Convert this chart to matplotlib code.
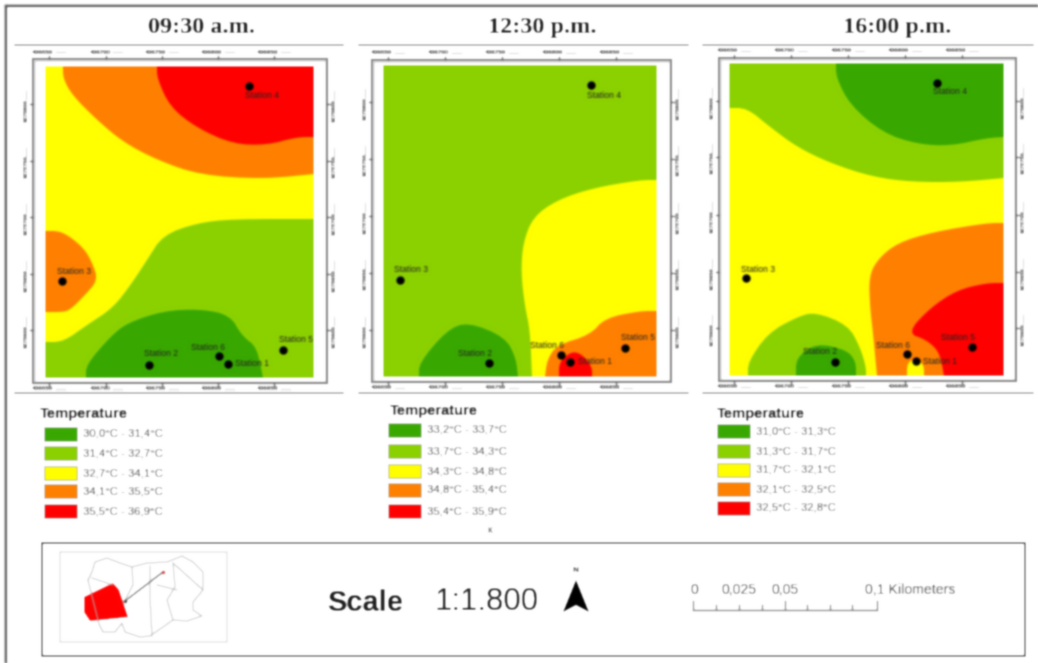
import numpy as np
import matplotlib
matplotlib.use("Agg")
import matplotlib.pyplot as plt

# ---------- colours / classes ----------
DARK, LIGHT, YEL, ORG, RED = "#38A800", "#8BD100", "#FFFF00", "#FF8000", "#FF0000"
class_colors = [DARK, LIGHT, YEL, ORG, RED]
station_names = ["Station 1", "Station 2", "Station 3", "Station 4", "Station 5", "Station 6"]
titles = ["09:30 a.m.", "12:30 p.m.", "16:00 p.m."]
title_x = [201, 542, 897]
legend_a = ["30,0°C - 31,4°C", "31,4°C - 32,7°C", "32,7°C - 34,1°C", "34,1°C - 35,5°C", "35,5°C - 36,9°C"]
legend_b = ["33,2°C - 33,7°C", "33,7°C - 34,3°C", "34,3°C - 34,8°C", "34,8°C - 35,4°C", "35,4°C - 35,9°C"]
legend_c = ["31,0°C - 31,3°C", "31,3°C - 31,7°C", "31,7°C - 32,1°C", "32,1°C - 32,5°C", "32,5°C - 32,8°C"]
easting_labels = ["436650", "436700", "436750", "436800", "436850"]
northing_labels = ["9278800", "9278750", "9278700", "9278650", "9278600"]

# ---------- map extents (image grid) ----------
map_a = (45, 314, 66, 378)
map_b = (383, 657, 65, 377)
map_c = (729, 1004, 63, 376)
frame_a = (33, 327, 59, 383)
frame_b = (372, 671, 60, 382)
frame_c = (719, 1016, 58, 381)
rule_a = (15, 343)
rule_b = (359, 688)
rule_c = (703, 1033)
xticks_a = [49, 106, 162, 218, 274]
xticks_b = [388, 445, 502, 559, 616]
xticks_c = [734, 791, 848, 905, 962]
yticks_a = [104, 161, 217, 274, 330]
yticks_b = [102, 159, 216, 273, 330]
yticks_c = [101, 157, 215, 272, 328]

# ---------- contour zones ----------
zones_a = [
    (YEL, [(45,66),(314,66),(314,378),(45,378)]),
    (ORG, [(63,66),(63,78),(72,95),(97,120),(123,142),(157,160),(200,175),(263,179),(314,174),(314,66)]),
    (RED, [(157,66),(157,78),(170,107),(197,128),(233,144),(267,145),(297,137),(314,137),(314,66)]),
    (ORG, [(45,231),(62,231),(83,247),(92,262),(98,280),(85,295),(70,310),(62,312),(45,312)]),
    (LIGHT, [(314,219),(233,219),(197,223),(163,235),(147,260),(132,283),(113,308),(87,325),(63,342),(45,342),(45,378),(314,378)]),
    (DARK, [(86,378),(86,365),(110,337),(127,323),(163,311),(200,309),(230,315),(242,336),(257,347),(263,378)]),
]
zones_b = [
    (LIGHT, [(383,65),(657,65),(657,377),(383,377)]),
    (YEL, [(657,180),(640,180),(593,188),(557,200),(533,217),(523,243),(521,273),(525,307),(530,330),(532,377),(657,377)]),
    (ORG, [(545,377),(547,360),(557,345),(590,335),(605,318),(640,311),(657,311),(657,377)]),
    (RED, [(559,377),(559,362),(572,351),(583,355),(592,367),(592,377)]),
    (DARK, [(419,377),(419,363),(447,330),(468,322),(505,337),(516,358),(518,377)]),
]
zones_c = [
    (YEL, [(729,63),(1004,63),(1004,376),(729,376)]),
    (LIGHT, [(729,63),(729,108),(747,108),(770,127),(797,147),(830,163),(873,177),(913,182),(960,182),(1004,178),(1004,63)]),
    (DARK, [(836,63),(836,77),(850,105),(883,133),(917,144),(950,146),(987,138),(1004,137),(1004,63)]),
    (ORG, [(1004,223),(987,223),(933,232),(897,243),(877,260),(869,277),(870,307),(873,333),(877,376),(1004,376)]),
    (YEL, [(907,376),(907,363),(916,358),(924,365),(924,376)]),
    (RED, [(1004,283),(987,283),(957,290),(930,308),(907,333),(927,340),(940,353),(944,376),(1004,376)]),
    (LIGHT, [(748,376),(748,362),(768,333),(797,317),(815,312),(848,325),(860,347),(866,367),(866,376)]),
    (DARK, [(796,376),(796,358),(816,343),(847,350),(856,362),(856,376)]),
]

# ---------- stations (point, label left, label y) ----------
stations_a = [(228,364,235,364),(149,365,144,354),(62,281,57,272),(249,86,245,96),(283,350,279,340),(219,356,191,347)]
stations_b = [(570,362,578,362),(489,363,458,354),(400,280,394,270),(591,85,587,95),(625,348,621,337),(561,355,530,346)]
stations_c = [(916,361,923,361),(835,362,803,352),(746,278,741,269),(937,83,933,92),(972,347,941,338),(907,354,876,345)]

# ---------- legends ----------
legend_pos_a = (40, 44, 83, 414, [434, 453, 473, 491, 511])
legend_pos_b = (390, 388, 427, 411, [430, 451, 471, 490, 511])
legend_pos_c = (717, 717, 756, 414, [431, 451, 470, 489, 508])

# ---------- locator map ----------
inset_box = (60, 227, 552, 642)
inset_region = [(84,597),(113,583),(119,590),(128,617),(90,621),(84,612)]
inset_outline = [(88,580),(92,572),(95,562),(107,558),(120,563),(132,567),(147,563),(167,562),(182,556),(193,562),(203,572),(203,590),
                 (193,602),(193,610),(202,616),(187,621),(173,620),(163,627),(150,636),(140,637),(125,632),(122,623),(115,632),(103,632),(99,624)]
inset_lines = [[(92,578),(113,585)], [(132,567),(133,585),(125,600)], [(150,566),(150,598),(152,636)],
               [(173,563),(175,587),(167,600),(173,620)], [(173,563),(203,590)], [(157,585),(177,590)]]
inset_arrow = [(163,572),(125,601)]

# ---------- scale bar ----------
scale_ticks = [693, 716, 739, 762, 785, 807, 830, 852, 877]
scale_labels = [("0", 694), ("0,025", 739), ("0,05", 785)]

W, H = 1038, 663
fig = plt.figure(figsize=(W/100, H/100), dpi=100)
ax = fig.add_axes([0, 0, 1, 1])
ax.set_xlim(0, W); ax.set_ylim(H, 0); ax.axis("off")
SANS = ["Liberation Sans", "DejaVu Sans"]

def rect(x0, x1, y0, y1, **kw):
    ax.plot([x0, x1, x1, x0, x0], [y0, y0, y1, y1, y0], solid_joinstyle="miter", **kw)

def rounded(poly, mp, passes=2):
    """Round the contour vertices inside the map; vertices on the map edge stay put."""
    pts = [tuple(p) for p in poly]
    for _ in range(passes):
        out = []
        n = len(pts)
        for i, p in enumerate(pts):
            on_edge = p[0] in mp[:2] or p[1] in mp[2:]
            if on_edge:
                out.append(p)
            else:
                a, b = np.array(pts[i-1]), np.array(pts[(i+1) % n])
                q = np.array(p)
                out.append(tuple(q + (a - q) * 0.25))
                out.append(tuple(q + (b - q) * 0.25))
        pts = out
    return np.array(pts)

def panel(title, tx0, zones, stations, mp, fr, rule, xt, yt, lg_labels, lg_pos):
    ax.text(tx0, 27.5, title, family="Liberation Serif", weight="bold",
            fontsize=17.5, ha="center", va="center", color="#1a1a1a")
    for y in (45, 393):
        ax.plot(rule, [y, y], color="#8c8c8c", lw=1.4)
    rect(fr[0], fr[1], fr[2], fr[3], color="#808080", lw=1.5)
    rect(fr[0]+2, fr[1]-2, fr[2]+2, fr[3]-2, color="#d8d8d8", lw=0.6)
    for c, poly in zones:
        a = rounded(poly, mp)
        ax.fill(a[:,0], a[:,1], color=c, lw=0)
    for x, lab in zip(xt, easting_labels):
        for yt0, yt1, yl in ((fr[2]-3, fr[2], fr[2]-7), (fr[3], fr[3]+3, fr[3]+5.5)):
            ax.plot([x, x], [yt0, yt1], color="#555555", lw=0.8)
            ax.text(x-6, yl, lab, fontsize=4.6, family=SANS, weight="bold", color="#333333", ha="center", va="center")
            ax.plot([x+7, x+16], [yl, yl], color="#d8d8d8", lw=0.8)
    for y, lab in zip(yt, northing_labels):
        for x0, x1, xl in ((fr[0]-3, fr[0], fr[0]-7), (fr[1], fr[1]+3, fr[1]+7)):
            ax.plot([x0, x1], [y, y], color="#555555", lw=0.8)
            ax.text(xl, y+6, lab, fontsize=4.2, family=SANS, weight="bold", color="#333333", rotation=90, ha="center", va="center")
            ax.plot([xl, xl], [y-13, y-5], color="#d8d8d8", lw=0.8)
    for name, (px, py, lx, ly) in zip(station_names, stations):
        ax.plot(px, py, "o", ms=6, color="black", mew=0)
        ax.text(lx, ly, name, fontsize=6.2, family=SANS, color="#222222", ha="left", va="center")
    tx, sx, lx, ty, rows = lg_pos
    ax.text(tx, ty, "Temperature", fontsize=10.6, family=SANS, weight="bold", color="#111111", ha="left", va="center")
    for c, lab, y in zip(class_colors, lg_labels, rows):
        ax.fill([sx, sx+33, sx+33, sx], [y-7, y-7, y+7, y+7], facecolor=c, edgecolor="#aaaaaa", lw=0.7)
        ax.text(lx, y, lab, fontsize=8.2, family=SANS, color="#3c3c3c", ha="left", va="center")

# outer frame
ax.plot([6, 6], [663, 6], color="#555555", lw=1.6)
ax.plot([6, 1038], [6, 6], color="#555555", lw=1.6)

panel(titles[0], title_x[0], zones_a, stations_a, map_a, frame_a, rule_a, xticks_a, yticks_a, legend_a, legend_pos_a)
panel(titles[1], title_x[1], zones_b, stations_b, map_b, frame_b, rule_b, xticks_b, yticks_b, legend_b, legend_pos_b)
panel(titles[2], title_x[2], zones_c, stations_c, map_c, frame_c, rule_c, xticks_c, yticks_c, legend_c, legend_pos_c)
ax.text(490, 530, "κ", fontsize=7, family=SANS, color="#444444", ha="center", va="center")

# bottom box
rect(42, 1025, 543, 656, color="#333333", lw=1.3)
rect(inset_box[0], inset_box[1], inset_box[2], inset_box[3], color="#dddddd", lw=1.2)
o = np.array(inset_outline + inset_outline[:1])
ax.plot(o[:,0], o[:,1], color="#b4b4b4", lw=0.7)
for l in inset_lines:
    a = np.array(l); ax.plot(a[:,0], a[:,1], color="#b4b4b4", lw=0.7)
r = np.array(inset_region)
ax.fill(r[:,0], r[:,1], color=RED, lw=0)
a = np.array(inset_arrow)
ax.plot(a[:,0], a[:,1], color="#666666", lw=1.0)
ax.plot(*a[0], "o", ms=2.5, color="#d04040", mew=0)
ax.plot(*a[1], "o", ms=2.5, color="#444444", mew=0)

ax.text(365.5, 603, "Scale", fontsize=21, family=SANS, weight="bold", color="#1a1a1a", ha="center", va="center")
ax.text(487, 602, "1:1.800", fontsize=22.4, family=SANS, color="#1a1a1a", ha="center", va="center")
ax.fill([576, 589, 576, 563], [580, 612, 605, 612], color="black", lw=0)
ax.text(575.5, 571, "N", fontsize=6, family=SANS, weight="bold", color="#333333", ha="center", va="center")

ax.plot([scale_ticks[0], scale_ticks[-1]], [610, 610], color="#777777", lw=1.0)
for i, x in enumerate(scale_ticks):
    top = 601 if i in (0, 4, 8) else 605
    ax.plot([x, x], [top, 610], color="#777777", lw=0.9)
for lab, x in scale_labels:
    ax.text(x, 590, lab, fontsize=10.2, family=SANS, color="#444444", ha="center", va="center")
ax.text(865, 590, "0,1 Kilometers", fontsize=10.2, family=SANS, color="#444444", ha="left", va="center")

# soft rendering, like the low-resolution source scan
def soften(img, dpi, sigma=1.0):
    pad = 5
    out = np.pad(img, ((pad, pad), (pad, pad), (0, 0)), mode="constant")
    k = np.exp(-0.5 * (np.arange(-4, 5) / sigma) ** 2)
    k /= k.sum()
    for axis in (0, 1):
        out = np.apply_along_axis(lambda m: np.convolve(m, k, mode="same"), axis, out)
    return out, -pad, -pad

ax.set_agg_filter(soften)
fig.savefig("out.png", dpi=100, facecolor="white")
